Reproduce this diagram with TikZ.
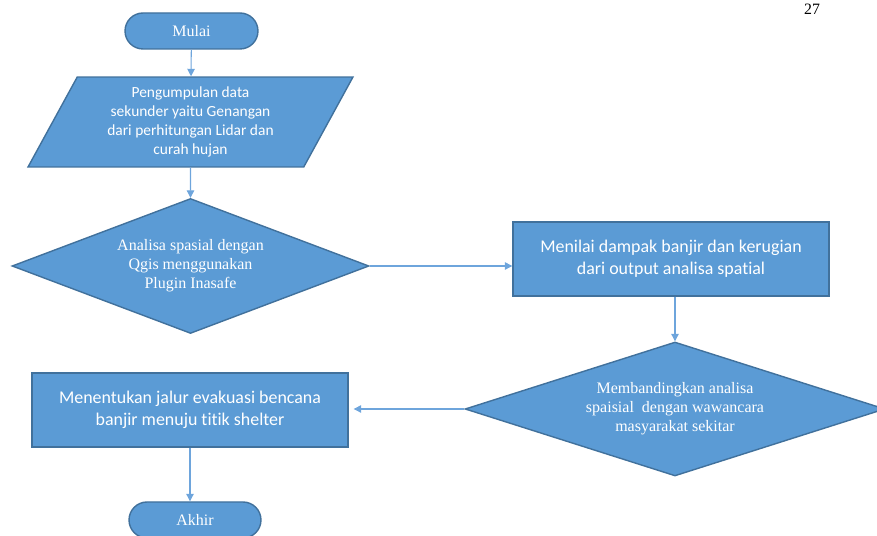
\documentclass[tikz,border=0pt]{standalone}
\usepackage{fontspec}
\setmainfont{Liberation Serif}
\newfontfamily\calibri[Ligatures=NoCommon]{Carlito}
\usetikzlibrary{positioning,arrows.meta,calc,shapes.geometric}
\definecolor{OfficeBlue}{RGB}{91,155,213}
\definecolor{EdgeBlue}{RGB}{65,113,156}
\definecolor{LineBlue}{RGB}{110,165,220}
\tikzset{
  flow/.style={-{Triangle[length=1.5mm,width=1.5mm]},line width=0.6pt,draw=LineBlue},
  terminal/.style={draw=EdgeBlue,fill=OfficeBlue,line width=0.8pt,rounded corners=0.36cm,
    minimum width=2.66cm,minimum height=0.72cm,text=white,font=\fontsize{9.1}{10.8}\selectfont},
  iobox/.style={trapezium,trapezium left angle=55,trapezium right angle=125,
    trapezium stretches body=true,draw=EdgeBlue,fill=OfficeBlue,line width=0.8pt,
    minimum width=6.5cm,minimum height=1.8cm,inner sep=0pt,align=center,text=white,
    font=\calibri\fontsize{8.8}{10.8}\selectfont},
  decision/.style={diamond,aspect=2.65,draw=EdgeBlue,fill=OfficeBlue,line width=0.8pt,inner sep=0pt,
    align=center,text=white,font=\fontsize{9.1}{10.8}\selectfont},
  process/.style={draw=EdgeBlue,fill=OfficeBlue,line width=0.8pt,
    minimum width=6.32cm,minimum height=1.48cm,align=center,text=white,
    font=\calibri\fontsize{10.2}{12.5}\selectfont}
}
\begin{document}
\begin{tikzpicture}[x=0.02cm,y=-0.02cm]
  \useasboundingbox (0,0) rectangle (877,536);
  \node[font=\fontsize{9}{10}\selectfont,inner sep=1pt] (hal) at (812,9) {27};
  \node[terminal] (mulai) at (191.5,31) {Mulai};
  \node[iobox] (data) at (190.5,122) {Pengumpulan data\\
    sekunder yaitu Genangan\\
    dari perhitungan Lidar dan\\
    curah hujan};
  \node[decision,minimum width=7.14cm,minimum height=2.7cm] (analisa) at (190.5,266) {Analisa spasial dengan\\
    Qgis menggunakan\\
    Plugin Inasafe};
  \node[process] (menilai) at (671,259) {Menilai dampak banjir dan kerugian\\
    dari output analisa spatial};
  \node[decision,aspect=3.13,minimum width=8.4cm,minimum height=2.68cm] (banding) at (675,409) {Membandingkan analisa\\
    spaisial~ dengan wawancara\\
    masyarakat sekitar};
  \node[process] (jalur) at (190,410) {Menentukan jalur evakuasi bencana\\
    banjir menuju titik shelter};
  \node[terminal,minimum width=2.64cm] (akhir) at (195,520) {Akhir};
  \draw[flow] (mulai) -- (data);
  \draw[flow] (data) -- (analisa);
  \draw[flow] (analisa.east) -- (analisa.east -| menilai.west);
  \draw[flow] (banding.north |- menilai.south) -- (banding.north);
  \draw[flow] (banding.west) -- ($(banding.west -| jalur.east)+(5,0)$);
  \draw[flow] (jalur.south) -- (jalur.south |- akhir.north);
\end{tikzpicture}
\end{document}
